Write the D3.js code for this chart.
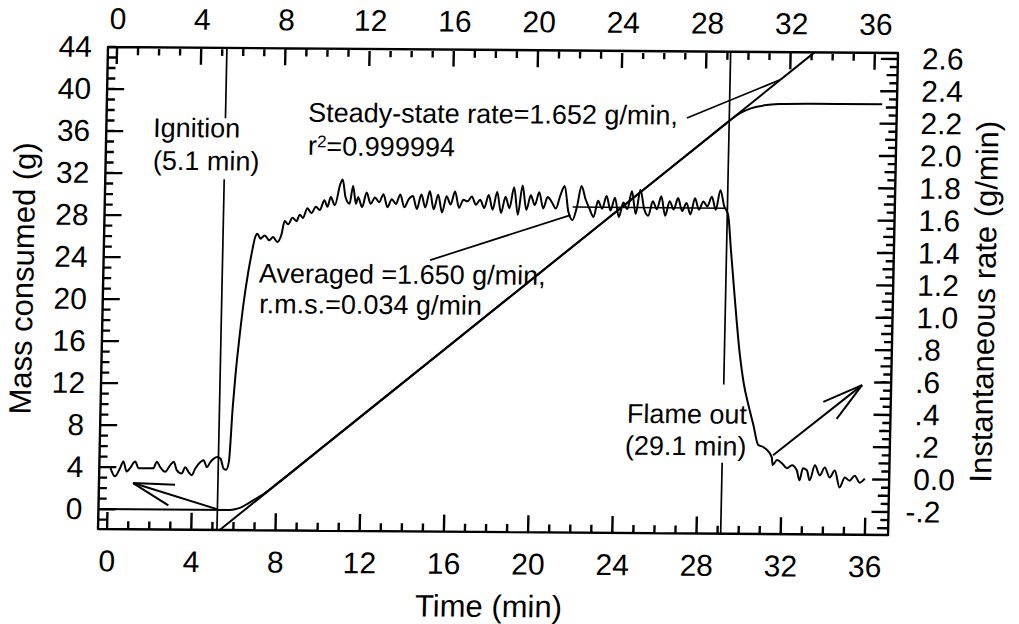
<!DOCTYPE html>
<html>
<head>
<meta charset="utf-8">
<script src="https://cdn.jsdelivr.net/npm/d3@7"></script>
<style>
body { margin: 0; background: #fff; }
svg text { font-family: "Liberation Sans", Arial, sans-serif; fill: #000; }
</style>
</head>
<body>
<svg id="chart" width="1019" height="624"></svg>
<script>
// axis ranges and labelled ticks
var timeDomain = [-0.43, 37.1];
var massDomain = [-1.9, 44];
var rateDomain = [-0.342, 2.637];
var timeTicks = [0, 4, 8, 12, 16, 20, 24, 28, 32, 36];
var massTicks = [0, 4, 8, 12, 16, 20, 24, 28, 32, 36, 40, 44];
var rateTicks = [-0.2, 0, 0.2, 0.4, 0.6, 0.8, 1.0, 1.2, 1.4, 1.6, 1.8, 2.0, 2.2, 2.4, 2.6];

// mass consumed (g) vs time (min)
var massCurve = [[-0.43, 0], [5.8, 0], [6.1, 0.1], [6.4, 0.32], [6.7, 0.68], [7.0, 1.05], [7.4, 1.55],
  [8.0, 2.5], [10, 5.8], [15, 14.05], [20, 22.3], [25, 30.55], [29.0, 37.15], [29.3, 37.65],
  [29.7, 38.2], [30.2, 38.65], [30.8, 38.92], [31.5, 39.05], [33, 39.1], [36.4, 39.12]];

// steady-state fit: slope (g/min), time where fit crosses 0 g
var fitSlope = 1.652;
var fitZero = 6.5;

// instantaneous rate (g/min) in pieces
var ratePre = [[0.08, 0.044], [0.32, -0.016], [0.56, 0.036], [0.71, 0.077], [0.87, 0.015], [1.03, 0.036],
  [1.27, 0.077], [1.43, 0.036], [1.67, 0.036], [2.14, 0.036], [2.30, 0.077], [2.46, 0.044], [2.70, 0.015],
  [2.94, 0.056], [3.10, 0.077], [3.25, 0.026], [3.49, 0.005], [3.65, 0.044], [3.81, 0.015], [3.97, -0.005],
  [4.13, 0.036], [4.37, 0.077], [4.52, 0.088], [4.68, 0.044], [4.84, 0.077], [5.00, 0.098], [5.16, 0.108],
  [5.32, 0.098], [5.48, 0.036], [5.6, 0.03]];
var rateRise = [[5.72, 0.08], [5.85, 0.42], [5.95, 0.62], [6.1, 0.85], [6.27, 1.07], [6.45, 1.25],
  [6.6, 1.37], [6.75, 1.47], [6.85, 1.49], [7.0, 1.46], [7.2, 1.48], [7.42, 1.45], [7.6, 1.47], [7.8, 1.44],
  [8.0, 1.49], [8.13, 1.57], [8.3, 1.55], [8.5, 1.59], [8.7, 1.57], [8.84, 1.61], [9.0, 1.59], [9.2, 1.65],
  [9.4, 1.62], [9.6, 1.66], [9.79, 1.64], [10.0, 1.70], [10.15, 1.66], [10.3, 1.72], [10.5, 1.67],
  [10.74, 1.80], [10.85, 1.83], [11.0, 1.72], [11.2, 1.68], [11.35, 1.79], [11.5, 1.68]];
var steadyStart = 11.6, steadyStep = 0.2;
var rateSteady = [1.72, 1.66, 1.75, 1.68, 1.72, 1.69, 1.74, 1.66, 1.71, 1.68,
  1.74, 1.66, 1.71, 1.73, 1.65, 1.74, 1.66, 1.76, 1.65, 1.74,
  1.63, 1.73, 1.68, 1.76, 1.66, 1.71, 1.70, 1.73, 1.68, 1.71,
  1.66, 1.74, 1.65, 1.76, 1.63, 1.73, 1.66, 1.79, 1.62, 1.80,
  1.65, 1.74, 1.68, 1.76, 1.66, 1.73, 1.70, 1.66, 1.74, 1.80,
  1.64, 1.59, 1.67, 1.80, 1.72, 1.66, 1.61, 1.71, 1.66, 1.74,
  1.65, 1.73, 1.61, 1.70, 1.66, 1.77, 1.63, 1.78, 1.66, 1.62,
  1.71, 1.66, 1.74, 1.62, 1.71, 1.66, 1.73, 1.65, 1.70, 1.63,
  1.73, 1.66, 1.71, 1.68, 1.74, 1.66, 1.78, 1.68];
var rateDecay = [[29.19, 1.63], [29.36, 1.41], [29.6, 1.10], [29.86, 0.79], [30.11, 0.58], [30.35, 0.45],
  [30.6, 0.33], [30.84, 0.21], [31.08, 0.196], [31.27, 0.178], [31.5, 0.134], [31.55, 0.085], [31.75, 0.116],
  [31.99, 0.097], [32.23, 0.066], [32.47, 0.085], [32.7, 0.054], [32.84, -0.008], [32.99, 0.066],
  [33.18, 0.054], [33.32, -0.008], [33.56, 0.085], [33.8, 0.023], [34.03, 0.072], [34.27, 0.011],
  [34.51, 0.054], [34.75, -0.05], [34.99, 0.011], [35.22, -0.008], [35.46, 0.023], [35.7, -0.020],
  [35.94, 0.005]];

// averaged rate segment
var avgSegment = [[21.8, 1.67], [29.1, 1.67]];

// event markers (min) with the gap left for their labels (g)
var ignitionTime = 5.22, ignitionGap = [31.5, 37.3];
var flameTime = 29.15, flameGap = [4.86, 12.3];

// annotation pointer lines and arrows [t, value]
var steadyPointer = [[27.14, 37.66], [31.5, 41.34]];     // mass units
var averagedPointer = [[15.08, 1.335], [21.7, 1.62]];    // rate units
var massArrow = [[5.2, 0.08], [1.19, 2.5]];              // tail, tip (mass units)
var rateArrow = [[31.56, 0.146], [35.72, 0.583]];        // tail, tip (rate units)

// text labels: left edge time, vertical centre in mass units
var notes = [
  {t: 1.79, m: 36.4, text: "Ignition"},
  {t: 1.82, m: 33.27, text: "(5.1 min)"},
  {t: 9.14, m: 37.95, text: "Steady-state rate=1.652 g/min,"},
  {t: 6.96, m: 22.6, text: "Averaged =1.650 g/min,"},
  {t: 7.0, m: 19.7, text: "r.m.s.=0.034 g/min"},
  {t: 24.58, m: 9.52, text: "Flame out"},
  {t: 24.52, m: 6.48, text: "(29.1 min)"}
];

var W = 790, H = 482;
var svg = d3.select("#chart");
// the printed figure sits a little rotated on the page
var g = svg.append("g").attr("transform", "matrix(1,0.0076,-0.0207,1,108,47)");

var x = d3.scaleLinear().domain(timeDomain).range([0, W]);
var yM = d3.scaleLinear().domain(massDomain).range([H, 0]);
var yR = d3.scaleLinear().domain(rateDomain).range([H, 0]);

var minorTime = d3.range(0, 37, 1);
var minorMass = d3.range(-1, 45, 1);
var minorRate = d3.range(-6, 53, 1).map(function(d) { return d / 20; });
var midRate = d3.range(-3, 27, 1).map(function(d) { return d / 10; });

function rateFmt(d) {
  if (d === 0) return "0.0";
  var s = d.toFixed(1);
  return Math.abs(d) < 1 ? s.replace("0.", ".") : s;
}

// tick labels via d3 axes
function labelsOnly(sel) {
  sel.select(".domain").remove();
  sel.selectAll(".tick line").remove();
  sel.attr("font-family", null).attr("font-size", null);
  sel.selectAll("text").style("font-size", "30px");
}
g.append("g").attr("transform", "translate(0," + H + ")")
  .call(d3.axisBottom(x).tickValues(timeTicks).tickSize(0).tickPadding(21)).call(labelsOnly);
g.append("g")
  .call(d3.axisTop(x).tickValues(timeTicks).tickSize(0).tickPadding(18)).call(labelsOnly);
g.append("g")
  .call(d3.axisLeft(yM).tickValues(massTicks).tickSize(0).tickPadding(16)).call(labelsOnly);
g.append("g").attr("transform", "translate(" + W + ",0)")
  .call(d3.axisRight(yR).tickValues(rateTicks).tickSize(0).tickPadding(24).tickFormat(rateFmt))
  .call(labelsOnly)
  .selectAll("text").attr("dx", function(d) { return d < 0 ? -7 : 0; });

var plot = g.append("g").attr("fill", "none").attr("stroke", "#000")
  .attr("stroke-linejoin", "round");

// frame and inward tick marks in one path
function tickSegs(values, scale, side, len) {
  return values.map(function(v) {
    var p = scale(v).toFixed(2);
    if (side === "bottom") return "M" + p + " " + H + "L" + p + " " + (H - len);
    if (side === "top") return "M" + p + " 0L" + p + " " + len;
    if (side === "left") return "M0 " + p + "L" + len + " " + p;
    return "M" + W + " " + p + "L" + (W - len) + " " + p;
  }).join(" ");
}
var frameD = "M0 0L" + W + " 0L" + W + " " + H + "L0 " + H + "Z " + [
  tickSegs(minorTime, x, "bottom", 8),
  tickSegs(timeTicks, x, "bottom", 17),
  tickSegs(minorTime, x, "top", 8),
  tickSegs(timeTicks, x, "top", 17),
  tickSegs(minorMass, yM, "left", 8),
  tickSegs(massTicks, yM, "left", 17),
  tickSegs(minorRate, yR, "right", 8),
  tickSegs(midRate, yR, "right", 11),
  tickSegs(rateTicks, yR, "right", 17)
].join(" ");
plot.append("path").attr("d", frameD).attr("stroke-width", 2.4).attr("stroke-linecap", "butt");

var massLine = d3.line().x(function(d) { return x(d[0]); }).y(function(d) { return yM(d[1]); })
  .curve(d3.curveMonotoneX);
var rateLine = d3.line().x(function(d) { return x(d[0]); }).y(function(d) { return yR(d[1]); })
  .curve(d3.curveMonotoneX);

// event lines, broken around their labels
[[ignitionTime, ignitionGap], [flameTime, flameGap]].forEach(function(ev) {
  plot.append("line").attr("x1", x(ev[0])).attr("x2", x(ev[0]))
    .attr("y1", 0).attr("y2", yM(ev[1][1])).attr("stroke-width", 1.7);
  plot.append("line").attr("x1", x(ev[0])).attr("x2", x(ev[0]))
    .attr("y1", yM(ev[1][0])).attr("y2", H).attr("stroke-width", 1.7);
});

// steady-state fit line across the plot
var fitT1 = fitZero + massDomain[0] / fitSlope, fitT2 = fitZero + massDomain[1] / fitSlope;
plot.append("line").attr("x1", x(fitT1)).attr("y1", yM(massDomain[0]))
  .attr("x2", x(fitT2)).attr("y2", yM(massDomain[1])).attr("stroke-width", 2);

plot.append("path").attr("d", massLine(massCurve)).attr("stroke-width", 2);

var steadyPts = rateSteady.map(function(v, i) { return [steadyStart + i * steadyStep, v]; });
var rateAll = ratePre.concat(rateRise, steadyPts, rateDecay);
plot.append("path").attr("d", rateLine(rateAll)).attr("stroke-width", 2);
plot.append("path").attr("d", rateLine(avgSegment)).attr("stroke-width", 1.5);

// pointers
plot.append("line").attr("x1", x(steadyPointer[0][0])).attr("y1", yM(steadyPointer[0][1]))
  .attr("x2", x(steadyPointer[1][0])).attr("y2", yM(steadyPointer[1][1])).attr("stroke-width", 1.7);
plot.append("line").attr("x1", x(averagedPointer[0][0])).attr("y1", yR(averagedPointer[0][1]))
  .attr("x2", x(averagedPointer[1][0])).attr("y2", yR(averagedPointer[1][1])).attr("stroke-width", 1.7);

function arrow(x1, y1, x2, y2) {
  var a = Math.atan2(y1 - y2, x1 - x2), len = 42, spread = 15 * Math.PI / 180;
  plot.append("line").attr("x1", x1).attr("y1", y1).attr("x2", x2).attr("y2", y2).attr("stroke-width", 2);
  [-spread, spread].forEach(function(s) {
    plot.append("line").attr("x1", x2).attr("y1", y2)
      .attr("x2", x2 + len * Math.cos(a + s)).attr("y2", y2 + len * Math.sin(a + s))
      .attr("stroke-width", 2);
  });
}
arrow(x(massArrow[0][0]), yM(massArrow[0][1]), x(massArrow[1][0]), yM(massArrow[1][1]));
arrow(x(rateArrow[0][0]), yR(rateArrow[0][1]), x(rateArrow[1][0]), yR(rateArrow[1][1]));

// notes
g.selectAll("text.note").data(notes).enter().append("text").attr("class", "note")
  .attr("x", function(d) { return x(d.t); }).attr("y", function(d) { return yM(d.m); })
  .attr("dy", "0.36em").style("font-size", "27px")
  .text(function(d) { return d.text; });
var r2 = g.append("text").attr("x", x(9.17)).attr("y", yM(34.8)).attr("dy", "0.36em")
  .style("font-size", "27px");
r2.append("tspan").text("r");
r2.append("tspan").attr("dy", "-0.45em").style("font-size", "17px").text("2");
r2.append("tspan").attr("dy", "0.3em").text("=0.999994");

// axis titles
g.append("text").attr("x", 392).attr("y", H + 85).attr("text-anchor", "middle")
  .style("font-size", "31px").text("Time (min)");
g.append("text").attr("transform", "translate(-70," + 232 + ") rotate(-90)")
  .attr("text-anchor", "middle").style("font-size", "31px").text("Mass consumed (g)");
g.append("text").attr("transform", "translate(" + (W + 102) + "," + 248 + ") rotate(-90)")
  .attr("text-anchor", "middle").style("font-size", "31px").text("Instantaneous rate (g/min)");
</script>
</body>
</html>
